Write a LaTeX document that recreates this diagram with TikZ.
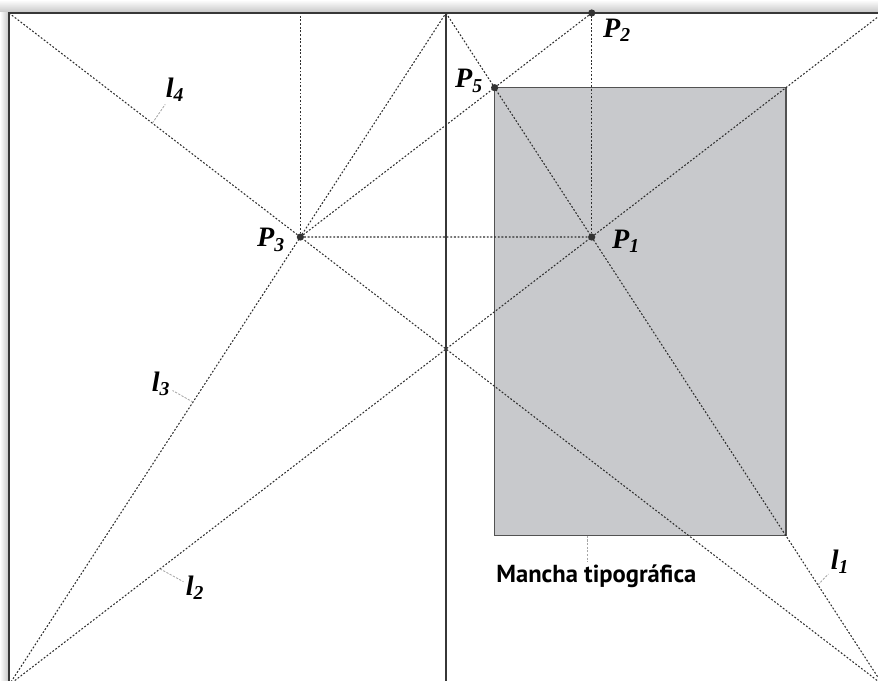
\documentclass[tikz,border=0pt]{standalone}
\usepackage{fontspec}
\newfontfamily\manchafont{PT Sans}
\newfontfamily\labfont{Liberation Serif}
\usetikzlibrary{calc}
\definecolor{mancha}{RGB}{200,201,204}
\definecolor{frame}{RGB}{55,55,55}

\begin{document}
\begin{tikzpicture}[x=0.025cm,y=-0.025cm,
  font=\fontsize{15}{17}\selectfont,
  edge/.style={draw=frame,line width=1.2pt},
  guide/.style={draw=black!82,line width=0.75pt,dash pattern=on 1.3pt off 1.3pt},
  leader/.style={draw=black!35,line width=0.6pt,dash pattern=on 1.6pt off 1pt},
  block/.style={fill=mancha,draw=black!68,line width=1.1pt},
  lab/.style={font=\labfont\fontsize{20}{22}\selectfont\bfseries\itshape,inner sep=1.5pt},
  caption/.style={font=\manchafont\fontsize{17.5}{19}\selectfont\bfseries,inner sep=1.5pt}]
\useasboundingbox (0,0) rectangle (878,681);
\clip (0,0) rectangle (878,681);

\coordinate (tl) at (9,13);
\coordinate (tm) at (446,13);
\coordinate (tr) at (883,13);
\coordinate (bl) at (9,685);
\coordinate (bm) at (446,685);
\coordinate (br) at (883,685);
\coordinate (p1) at (intersection of tm--br and bl--tr);
\coordinate (p3) at (intersection of tl--br and bl--tm);
\coordinate (p2) at (p1 |- tm);
\coordinate (p3top) at (p3 |- tm);
\coordinate (p5) at (intersection of p3--p2 and tm--br);
\coordinate (p5r) at ($(p5)+(100,0)$);
\coordinate (mtr) at (intersection of p5--p5r and bl--tr);
\coordinate (mtrb) at (mtr |- bl);
\coordinate (mbr) at (intersection of mtr--mtrb and tm--br);
\coordinate (mbl) at (p5 |- mbr);

\shade[top color=white,bottom color=black!22] (0,0) rectangle (878,12.4);
\shade[left color=white,right color=black!22] (0,12.4) rectangle (8.4,681);

\draw[block] (p5) rectangle (mbr);

\draw[guide] (tl)--(br);
\draw[guide] (bl)--(tr);
\draw[guide] (bl)--(tm);
\draw[guide] (tm)--(br);
\draw[guide] (p3)--(p3top);
\draw[guide] (p3)--(p1);
\draw[guide] (p1)--(p2);
\draw[guide] (p3)--(p2);

\draw[edge] (tl) rectangle (br);
\draw[edge] (tm)--(bm);

\fill[black!80] (p1) circle[radius=0.9mm];
\fill[black!80] (p2) circle[radius=0.9mm];
\fill[black!80] (p3) circle[radius=0.9mm];
\fill[black!80] (p5) circle[radius=0.9mm];

\node[lab] (p1_lab) at (626,241) {P\textsubscript{1}};
\node[lab] (p2_lab) at (617,30) {P\textsubscript{2}};
\node[lab] (p3_lab) at (271,240) {P\textsubscript{3}};
\node[lab] (p5_lab) at (469,81) {P\textsubscript{5}};

\coordinate (l1_pt) at ($(tm)!0.851!(br)$);
\coordinate (l2_pt) at ($(bl)!0.1728!(tr)$);
\coordinate (l3_pt) at ($(bl)!0.421!(tm)$);
\coordinate (l4_pt) at ($(tl)!0.164!(br)$);
\node[lab] (l1_lab) at (840,562) {l\textsubscript{1}};
\node[lab] (l2_lab) at (195,588) {l\textsubscript{2}};
\node[lab] (l3_lab) at (161,384) {l\textsubscript{3}};
\node[lab] (l4_lab) at (175,90) {l\textsubscript{4}};
\draw[leader] (l1_pt)--(l1_lab);
\draw[leader] (l2_pt)--(l2_lab);
\draw[leader] (l3_pt)--(l3_lab);
\draw[leader] (l4_pt)--(l4_lab);

\coordinate (mancha_pt) at ($(mbl)!0.317!(mbr)$);
\node[caption,anchor=base west] (mancha) at (494,582) {Mancha tipográfica};
\draw[leader] (mancha_pt)--(mancha_pt |- mancha.north);
\end{tikzpicture}
\end{document}
